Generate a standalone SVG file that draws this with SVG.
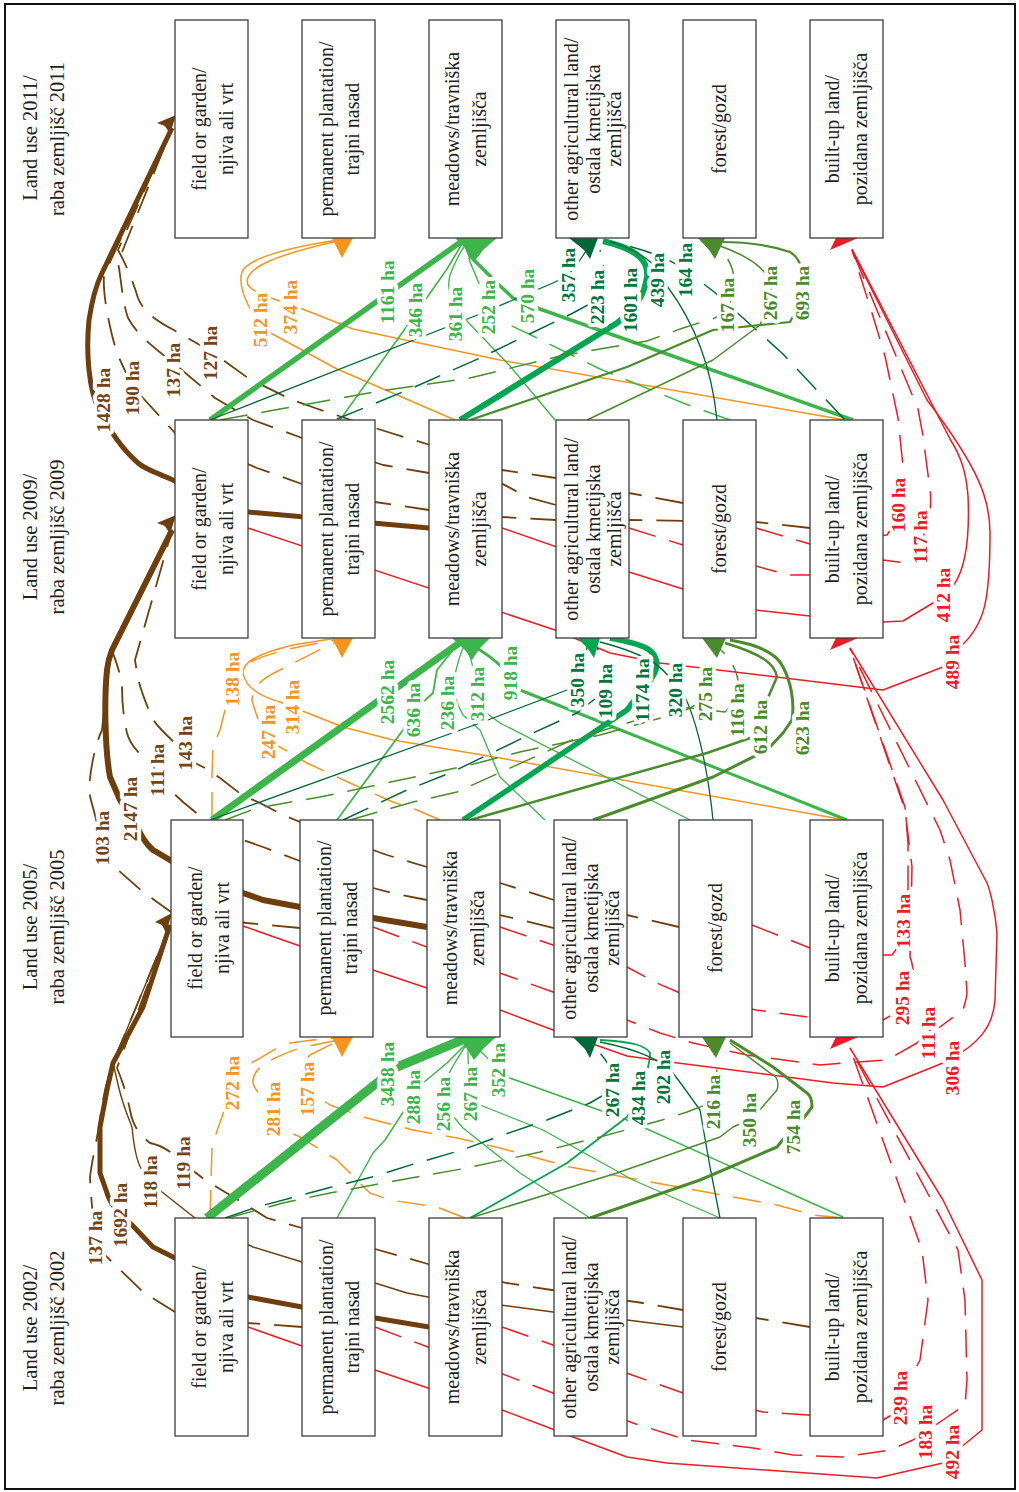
<svg xmlns="http://www.w3.org/2000/svg" width="1019" height="1492" viewBox="0 0 1019 1492">
<style>
.bx{fill:#fff;stroke:#3c3c3c;stroke-width:1.3}
.t{font-family:"Liberation Serif",serif;font-size:20px;fill:#231f20;text-anchor:middle;dominant-baseline:central}
.h{font-family:"Liberation Serif",serif;font-size:20.5px;fill:#231f20;text-anchor:middle;dominant-baseline:central}
.l{font-family:"Liberation Serif",serif;font-size:19.5px;font-weight:bold;text-anchor:middle;dominant-baseline:central;paint-order:stroke;stroke:#fff;stroke-width:8px;stroke-linejoin:round}
.c{fill:none;stroke-linejoin:round}
.d{stroke-dasharray:28 14}
.br{stroke:#6e3f0c}.or{stroke:#f7941d}.lg{stroke:#3cb54a}.dg{stroke:#006838}.bg{stroke:#00a651}.ol{stroke:#4a8b2c}.rd{stroke:#ed1c24}
.fbr{fill:#754414}.for{fill:#f7941d}.flg{fill:#3cb54a}.fdg{fill:#00773a}.fol{fill:#4a8b2c}.frd{fill:#ed1c24}
</style>
<rect x="5" y="4" width="1010" height="1485" fill="#fff" stroke="#111" stroke-width="2"/>

<g id="connectors">
<!-- Transition 2009 -> 2011 -->
<path class="c br" stroke-width="5" d="M429,528 L248,512 C205,508 192,490 175,481 C158,473 146,470 138,463 C120,447 110,430 100,412 C88,390 86,350 89,320 C92,300 96,285 102,273 L172,128"/>
<path class="c br d" stroke-width="1.8" d="M810,528 L756,522 L629,520 L556,520 L502,517 L429,510 L375,502 L302,484 L257,468 L175,433 L143,398 C128,380 118,360 112,335 C106,310 103,290 104,275 L172,128"/>
<path class="c br d" stroke-width="1.8" d="M683,503 L629,493 L556,478 L502,470 L429,473 L383,465 L302,438 L253,420 L215,398 L183,371 C165,355 140,340 128,318 C122,300 122,285 118,262 L172,128"/>
<path class="c br d" stroke-width="1.8" d="M556,505 L527,497 L430,445 L375,428 L318,409 L290,399 L248,378 L212,352 L172,329 C155,320 143,311 138,298 C134,285 128,268 118,250 L172,128"/>

<path class="c or" stroke-width="1.5" d="M455,420 L337,369 L267,331 L255,318 C245,300 238,285 242,272 C248,258 290,247 338,240"/>
<path class="c or" stroke-width="1.5" d="M845,420 L500,360 L353,329 L300,308 C280,300 255,295 248,285 C242,270 270,256 338,241"/>

<path class="c lg" stroke-width="5.5" d="M210,420 L462,241"/>
<path class="c lg" stroke-width="1.6" d="M340,420 L407,326 L447,269 L462,244"/>
<path class="c lg" stroke-width="1.3" d="M555,420 L510,366 L465,319 C452,305 446,290 450,275 C455,262 460,252 466,244"/>
<path class="c lg d" stroke-width="1.5" d="M730,420 L683,403 L600,369 L533,336 L495,318 C485,300 478,280 470,262 L466,246"/>
<path class="c lg" stroke-width="3.5" d="M853,420 L537,308 L513,298 L497,283 L470,256 L466,246"/>

<path class="c bg" stroke-width="6" d="M460,420 L617,323 C635,310 645,295 647,276 C648,262 640,250 603,241"/>
<path class="c dg" stroke-width="1.3" d="M210,420 L480,314 L553,283 C565,278 575,270 580,260 L590,245"/>
<path class="c dg d" stroke-width="1.5" d="M337,419 L410,389 L480,358 L573,313 L597,300 C605,285 606,270 600,250"/>
<path class="c dg" stroke-width="1.3" d="M717,420 C712,370 697,326 667,286 C660,270 650,255 615,243"/>
<path class="c dg d" stroke-width="1.5" d="M845,420 L813,386 L783,354 L713,291 L685,270 C670,258 640,248 610,242"/>

<path class="c ol d" stroke-width="1.5" d="M220,420 L280,409 L380,391 L470,378 L560,356 L647,341 L683,328 L715,318 L727,310 C740,285 735,260 715,245"/>
<path class="c ol" stroke-width="1.5" d="M587,420 L713,360 L760,325 L770,300 C775,280 765,262 720,246"/>
<path class="c ol" stroke-width="2.2" d="M470,420 L627,367 L713,330 L790,322 L802,300 C808,275 800,258 790,252 C770,245 745,242 720,242"/>

<path class="c rd" stroke-width="1.5" d="M248,528 L555,630 L610,653 L660,663 L883,690 L943,667 L960,647 C985,625 990,600 990,533 C990,500 980,470 927,400 L852,250"/>
<path class="c rd" stroke-width="1.5" d="M502,528 L629,572 L683,589 L756,610 L810,616 L883,622 L903,621 L933,603 L953,586 C965,570 970,540 968,496 C966,470 960,455 950,439 L852,249"/>
<path class="c rd d" stroke-width="1.5" d="M756,528 L810,544 L887,535 L897,520 C905,490 905,470 903,466 L898,418 L885,356 L872,313 L852,250"/>
<path class="c rd d" stroke-width="1.5" d="M629,528 L683,545 L756,566 L788,575 L810,575 L883,560 L907,563 L920,545 C930,520 932,505 930,490 L923,436 L918,409 L852,250"/>

<!-- Transition 2005 -> 2009 -->
<path class="c br" stroke-width="6" d="M427,927 L373,918 L300,907 L263,900 L243,893 C205,882 185,868 170,860 L153,850 C145,843 140,835 135,822 L120,800 L110,777 C105,750 104,700 107,670 C108,660 110,655 112,650 L172,530"/>
<path class="c br d" stroke-width="1.8" d="M300,928 L247,923 L171,912 L143,892 L110,863 C104,855 101,845 100,838 C96,815 90,800 89,790 C90,770 95,745 102,730 C105,700 108,670 112,650 L172,530"/>
<path class="c br d" stroke-width="1.8" d="M554,928 L500,915 L427,900 L392,893 L373,888 L300,861 L263,847 L243,840 L205,820 L183,802 L170,790 C163,780 158,775 152,765 C140,755 130,745 127,733 C123,715 122,700 122,687 C120,670 115,660 112,650 L172,530"/>
<path class="c br d" stroke-width="1.8" d="M679,927 L627,915 L554,900 L500,883 L427,867 L387,855 L373,850 L300,822 L283,815 L260,803 L242,795 L220,778 L205,768 L193,762 L180,748 C170,738 158,728 152,718 C147,705 140,690 137,673 L135,660 L172,530"/>

<path class="c or d" stroke-width="1.5" d="M212,820 L212,773 L213,747 L220,730 L225,710 L232,690 C236,675 240,668 250,662 C265,655 290,647 337,640"/>
<path class="c or d" stroke-width="1.5" d="M440,820 L417,810 L393,802 L350,783 L307,763 L268,740 C260,725 255,712 252,700 C252,690 258,680 280,670 L323,648 L338,641"/>
<path class="c or" stroke-width="1.5" d="M845,820 L500,758 L393,740 L343,727 L300,710 L280,702 C255,695 245,685 243,673 C243,663 253,655 293,645 L337,638"/>

<path class="c lg" stroke-width="7" d="M212,820 L462,641"/>
<path class="c lg" stroke-width="1.8" d="M337,820 L403,730 L422,703 L433,693 L437,670 L453,650 L463,643"/>
<path class="c lg" stroke-width="1.3" d="M545,820 L500,777 L480,730 L463,715 C455,700 452,690 455,675 C458,660 462,650 465,643"/>
<path class="c lg" stroke-width="1.3" d="M690,820 L500,723 L485,712 C478,690 474,670 467,645"/>
<path class="c lg" stroke-width="3" d="M847,820 L520,690 L505,670 C495,660 485,652 468,643"/>

<path class="c dg" stroke-width="1.3" d="M210,820 L480,723 L567,690 L577,680 C580,668 585,655 588,645"/>
<path class="c dg d" stroke-width="1.5" d="M343,820 L407,790 L450,773 L533,733 L577,713 L605,691 C610,675 605,660 595,645"/>
<path class="c bg" stroke-width="5.5" d="M463,820 L627,710 L642,690 C652,680 657,670 657,663 C655,650 647,645 610,638"/>
<path class="c dg" stroke-width="1.3" d="M713,820 C708,770 697,720 683,693 L675,690 C670,670 650,655 600,642"/>

<path class="c ol d" stroke-width="1.5" d="M225,820 L257,808 L320,797 L377,785 L470,765 L520,752 L600,735 L682,712 L705,700 C712,680 715,665 712,647"/>
<path class="c ol d" stroke-width="1.5" d="M350,820 L413,802 L457,792 L572,740 L637,720 L680,707 L725,712 L737,700 C742,680 735,660 715,645"/>
<path class="c ol" stroke-width="2.5" d="M470,820 L600,783 L707,753 L753,737 L760,727 L767,700 L777,677 C775,665 765,655 725,643"/>
<path class="c ol" stroke-width="3" d="M593,820 L713,777 L767,750 L783,733 L792,720 C795,700 790,680 783,667 C778,655 760,645 730,640"/>

<path class="c rd" stroke-width="1.5" d="M243,926 L300,946 L373,970 L427,988 L500,1010 L553,1030 L627,1056 L670,1062 L833,1083 L883,1087 L933,1067 L950,1060 C975,1045 993,1030 995,1000 L997,933 C995,910 990,890 987,883 L943,800 L850,648"/>
<path class="c rd d" stroke-width="1.5" d="M373,927 L427,947 L500,973 L553,992 L627,1020 L660,1033 L693,1043 L747,1055 L820,1065 L843,1063 L887,1060 L917,1043 L930,1030 L940,1027 L963,1010 C966,1000 967,995 967,993 L965,963 L960,910 L950,860 L940,830 L850,648"/>
<path class="c rd d" stroke-width="1.5" d="M500,927 L553,945 L627,967 L657,983 L680,993 L756,1010 L808,1017 L883,1020 L900,1010 L907,987 L915,980 C912,965 912,960 910,957 L912,867 L905,810 L850,648"/>
<path class="c rd d" stroke-width="1.5" d="M752,925 L810,948 L883,955 L892,955 L903,940 C906,920 907,910 908,895 L908,843 L905,807 L850,648"/>

<!-- Transition 2002 -> 2005 -->
<path class="c br" stroke-width="5" d="M429,1327 L375,1318 L302,1307 L248,1297 C210,1290 190,1268 175,1258 L153,1247 L132,1225 C120,1215 110,1205 107,1193 L100,1173 L100,1127 L107,1090 L113,1063 L143,1007 L170,925"/>
<path class="c br d" stroke-width="1.8" d="M302,1327 L248,1323 L175,1312 L143,1292 L110,1260 C100,1250 96,1245 95,1238 C93,1215 91,1200 90,1177 C92,1160 95,1150 100,1120 C103,1095 107,1080 113,1063 L170,925"/>
<path class="c br" stroke-width="1.4" d="M683,1327 L627,1320 L553,1312 L500,1305 L428,1297 L407,1293 L375,1283 L302,1262 L253,1247 L195,1218 L162,1192 L150,1182 C140,1170 135,1160 132,1127 C125,1110 120,1095 117,1080 L113,1063 L170,925"/>
<path class="c br d" stroke-width="1.8" d="M810,1327 L756,1318 L683,1310 L643,1303 L552,1290 L507,1283 L428,1264 L375,1249 L302,1228 L267,1218 L243,1203 L205,1180 L183,1163 C170,1150 160,1145 150,1143 C140,1135 133,1127 130,1110 C127,1095 122,1080 117,1068 L170,925"/>

<path class="c or d" stroke-width="1.5" d="M210,1218 L212,1147 L218,1128 L222,1117 L232,1083 C236,1070 240,1068 245,1067 L277,1048 L290,1043 L313,1040 L338,1038"/>
<path class="c or d" stroke-width="1.5" d="M465,1218 L437,1207 L390,1200 L370,1193 L337,1160 L300,1137 L285,1130 L273,1109 C260,1095 255,1090 253,1083 C252,1070 265,1060 300,1048 L338,1040"/>
<path class="c or d" stroke-width="1.5" d="M843,1218 L813,1215 L777,1205 L683,1188 L570,1167 L500,1148 L457,1138 L413,1130 L367,1118 L330,1105 L307,1089 C300,1075 300,1065 310,1055 L340,1040"/>

<path class="c lg" stroke-width="9" d="M207,1218 L397,1067 L462,1040"/>
<path class="c lg" stroke-width="1.5" d="M337,1218 L373,1153 L385,1140 L413,1097 L423,1083 L447,1063 L465,1045"/>
<path class="c lg" stroke-width="1.3" d="M590,1218 L520,1173 L463,1128 L443,1104 C440,1085 450,1070 466,1045"/>
<path class="c lg" stroke-width="1.3" d="M720,1218 L633,1180 L543,1130 L480,1105 L470,1094 C468,1075 468,1060 468,1045"/>
<path class="c lg" stroke-width="1.5" d="M843,1217 L627,1120 L507,1077 L498,1070 C490,1060 480,1050 470,1043"/>

<path class="c dg d" stroke-width="1.5" d="M225,1218 L257,1207 L328,1188 L372,1177 L417,1163 L462,1150 L503,1135 L547,1120 L590,1103 L612,1090 C615,1070 605,1055 590,1045"/>
<path class="c bg" stroke-width="1.8" d="M470,1218 L567,1163 L627,1117 L638,1098 C645,1080 650,1065 650,1053 C645,1045 633,1042 600,1040"/>
<path class="c dg" stroke-width="1.3" d="M720,1218 L710,1167 L700,1110 L682,1085 L673,1073 C660,1060 640,1050 600,1042"/>

<path class="c ol d" stroke-width="1.5" d="M228,1218 L283,1203 L330,1193 L400,1180 L467,1168 L540,1152 L600,1137 L662,1120 L687,1112 L713,1102 C718,1080 718,1065 714,1045"/>
<path class="c ol" stroke-width="1.5" d="M470,1218 L617,1173 L720,1137 L733,1127 L749,1120 L758,1112 L777,1090 C780,1080 775,1075 770,1073 L730,1043"/>
<path class="c ol" stroke-width="3" d="M590,1218 L700,1180 L777,1147 L793,1127 L800,1123 L812,1107 C812,1100 810,1095 807,1093 L773,1067 L730,1040"/>

<path class="c rd" stroke-width="1.5" d="M248,1327 L302,1346 L375,1370 L428,1388 L502,1410 L555,1430 L573,1437 L627,1457 L667,1463 L877,1478 L943,1463 L960,1448 L982,1430 L982,1280 L943,1200 L850,1048"/>
<path class="c rd d" stroke-width="1.5" d="M375,1327 L428,1347 L500,1373 L553,1393 L633,1423 L687,1440 L753,1448 L793,1455 L843,1457 L890,1450 L913,1440 L943,1420 L965,1405 L967,1380 L965,1300 L958,1250 L850,1048"/>
<path class="c rd d" stroke-width="1.5" d="M502,1327 L553,1345 L632,1375 L683,1393 L763,1412 L808,1415 L883,1420 L900,1410 L907,1385 L920,1360 L928,1300 L922,1250 L850,1048"/>
</g>

<g id="arrowheads">
<path fill="#6e3f0c" d="M176,115 L157,123 L165,126 L170,134 Z"/>
<path fill="#6e3f0c" d="M176,515 L157,523 L165,526 L170,534 Z"/>
<path fill="#6e3f0c" d="M172,913 L155,922 L162,925 L166,933 Z"/>
<path fill="#f7941d" d="M332,238 L353,238 L342,258 Z"/>
<path fill="#f7941d" d="M332,638 L353,638 L342,658 Z"/>
<path fill="#f7941d" d="M332,1037 L353,1037 L342,1057 Z"/>
<path fill="#3cb54a" d="M455,238 L497,238 L484,249 L474,262 L467,250 Z"/>
<path fill="#3cb54a" d="M452,638 L490,638 L480,648 L472,660 L465,650 Z"/>
<path fill="#3cb54a" d="M458,1037 L496,1037 L484,1048 L474,1060 L467,1049 Z"/>
<path fill="#006838" d="M569,238 L598,238 L590,259 L584,250 Z"/>
<path fill="#00a651" d="M578,638 L600,638 L594,658 L588,649 Z"/>
<path fill="#006838" d="M573,1037 L598,1037 L590,1058 L585,1049 Z"/>
<path fill="#4a8b2c" d="M698,238 L725,238 L715,259 L709,250 Z"/>
<path fill="#4a8b2c" d="M702,638 L726,638 L717,658 L711,650 Z"/>
<path fill="#4a8b2c" d="M702,1037 L726,1037 L716,1058 L710,1049 Z"/>
<path fill="#ed1c24" d="M830,250 L836,238 L858,238 Z"/>
<path fill="#ed1c24" d="M830,650 L836,638 L858,638 Z"/>
<path fill="#ed1c24" d="M830,1049 L836,1037 L858,1037 Z"/>
</g>

<g id="titles">
<text class="h" transform="translate(30,138) rotate(-90)">Land use 2011/</text>
<text class="h" transform="translate(57,139) rotate(-90)">raba zemljišč 2011</text>
<text class="h" transform="translate(30,537) rotate(-90)">Land use 2009/</text>
<text class="h" transform="translate(57,537) rotate(-90)">raba zemljišč 2009</text>
<text class="h" transform="translate(30,927) rotate(-90)">Land use 2005/</text>
<text class="h" transform="translate(57,927) rotate(-90)">raba zemljišč 2005</text>
<text class="h" transform="translate(30,1328) rotate(-90)">Land use 2002/</text>
<text class="h" transform="translate(57,1328) rotate(-90)">raba zemljišč 2002</text>
</g>

<!-- 2011 row -->
<g id="field-2011"><rect class="bx" x="175" y="20" width="73" height="218"/><text class="t" transform="translate(199,129) rotate(-90)">field or garden/</text><text class="t" transform="translate(226,129) rotate(-90)">njiva ali vrt</text></g>
<g id="plantation-2011"><rect class="bx" x="302" y="20" width="73" height="218"/><text class="t" transform="translate(326,129) rotate(-90)">permanent plantation/</text><text class="t" transform="translate(352,129) rotate(-90)">trajni nasad</text></g>
<g id="meadows-2011"><rect class="bx" x="429" y="20" width="73" height="218"/><text class="t" transform="translate(452,129) rotate(-90)">meadows/travniška</text><text class="t" transform="translate(479,129) rotate(-90)">zemljišča</text></g>
<g id="other-2011"><rect class="bx" x="556" y="20" width="73" height="218"/><text class="t" transform="translate(571,129) rotate(-90)">other agricultural land/</text><text class="t" transform="translate(593,129) rotate(-90)">ostala kmetijska</text><text class="t" transform="translate(614,129) rotate(-90)">zemljišča</text></g>
<g id="forest-2011"><rect class="bx" x="683" y="20" width="73" height="218"/><text class="t" transform="translate(719,129) rotate(-90)">forest/gozd</text></g>
<g id="builtup-2011"><rect class="bx" x="810" y="20" width="73" height="218"/><text class="t" transform="translate(832,129) rotate(-90)">built-up land/</text><text class="t" transform="translate(860,129) rotate(-90)">pozidana zemljišča</text></g>

<!-- 2009 row -->
<g id="field-2009"><rect class="bx" x="175" y="420" width="73" height="218"/><text class="t" transform="translate(199,529) rotate(-90)">field or garden/</text><text class="t" transform="translate(226,529) rotate(-90)">njiva ali vrt</text></g>
<g id="plantation-2009"><rect class="bx" x="302" y="420" width="73" height="218"/><text class="t" transform="translate(326,529) rotate(-90)">permanent plantation/</text><text class="t" transform="translate(352,529) rotate(-90)">trajni nasad</text></g>
<g id="meadows-2009"><rect class="bx" x="429" y="420" width="73" height="218"/><text class="t" transform="translate(452,529) rotate(-90)">meadows/travniška</text><text class="t" transform="translate(479,529) rotate(-90)">zemljišča</text></g>
<g id="other-2009"><rect class="bx" x="556" y="420" width="73" height="218"/><text class="t" transform="translate(571,529) rotate(-90)">other agricultural land/</text><text class="t" transform="translate(593,529) rotate(-90)">ostala kmetijska</text><text class="t" transform="translate(614,529) rotate(-90)">zemljišča</text></g>
<g id="forest-2009"><rect class="bx" x="683" y="420" width="73" height="218"/><text class="t" transform="translate(719,529) rotate(-90)">forest/gozd</text></g>
<g id="builtup-2009"><rect class="bx" x="810" y="420" width="73" height="218"/><text class="t" transform="translate(832,529) rotate(-90)">built-up land/</text><text class="t" transform="translate(860,529) rotate(-90)">pozidana zemljišča</text></g>

<!-- 2005 row -->
<g id="field-2005"><rect class="bx" x="171" y="820" width="72" height="217"/><text class="t" transform="translate(195,928) rotate(-90)">field or garden/</text><text class="t" transform="translate(222,928) rotate(-90)">njiva ali vrt</text></g>
<g id="plantation-2005"><rect class="bx" x="300" y="820" width="73" height="217"/><text class="t" transform="translate(324,928) rotate(-90)">permanent plantation/</text><text class="t" transform="translate(350,928) rotate(-90)">trajni nasad</text></g>
<g id="meadows-2005"><rect class="bx" x="427" y="820" width="73" height="217"/><text class="t" transform="translate(450,928) rotate(-90)">meadows/travniška</text><text class="t" transform="translate(477,928) rotate(-90)">zemljišča</text></g>
<g id="other-2005"><rect class="bx" x="554" y="820" width="73" height="217"/><text class="t" transform="translate(569,928) rotate(-90)">other agricultural land/</text><text class="t" transform="translate(591,928) rotate(-90)">ostala kmetijska</text><text class="t" transform="translate(612,928) rotate(-90)">zemljišča</text></g>
<g id="forest-2005"><rect class="bx" x="679" y="820" width="73" height="217"/><text class="t" transform="translate(715,928) rotate(-90)">forest/gozd</text></g>
<g id="builtup-2005"><rect class="bx" x="810" y="820" width="73" height="217"/><text class="t" transform="translate(832,928) rotate(-90)">built-up land/</text><text class="t" transform="translate(860,928) rotate(-90)">pozidana zemljišča</text></g>

<!-- 2002 row -->
<g id="field-2002"><rect class="bx" x="175" y="1218" width="73" height="218"/><text class="t" transform="translate(199,1327) rotate(-90)">field or garden/</text><text class="t" transform="translate(226,1327) rotate(-90)">njiva ali vrt</text></g>
<g id="plantation-2002"><rect class="bx" x="302" y="1218" width="73" height="218"/><text class="t" transform="translate(326,1327) rotate(-90)">permanent plantation/</text><text class="t" transform="translate(352,1327) rotate(-90)">trajni nasad</text></g>
<g id="meadows-2002"><rect class="bx" x="429" y="1218" width="73" height="218"/><text class="t" transform="translate(452,1327) rotate(-90)">meadows/travniška</text><text class="t" transform="translate(479,1327) rotate(-90)">zemljišča</text></g>
<g id="other-2002"><rect class="bx" x="554" y="1218" width="73" height="218"/><text class="t" transform="translate(569,1327) rotate(-90)">other agricultural land/</text><text class="t" transform="translate(591,1327) rotate(-90)">ostala kmetijska</text><text class="t" transform="translate(612,1327) rotate(-90)">zemljišča</text></g>
<g id="forest-2002"><rect class="bx" x="683" y="1218" width="73" height="218"/><text class="t" transform="translate(719,1327) rotate(-90)">forest/gozd</text></g>
<g id="builtup-2002"><rect class="bx" x="810" y="1218" width="73" height="218"/><text class="t" transform="translate(832,1327) rotate(-90)">built-up land/</text><text class="t" transform="translate(860,1327) rotate(-90)">pozidana zemljišča</text></g>

<g id="labels">
<text class="l fbr" transform="translate(103,400) rotate(-90)">1428 ha</text>
<text class="l fbr" transform="translate(132,388) rotate(-90)">190 ha</text>
<text class="l fbr" transform="translate(173,370) rotate(-90)">137 ha</text>
<text class="l fbr" transform="translate(210,353) rotate(-90)">127 ha</text>
<text class="l for" transform="translate(260,320) rotate(-90)">512 ha</text>
<text class="l for" transform="translate(290,307) rotate(-90)">374 ha</text>
<text class="l flg" transform="translate(387,292) rotate(-90)">1161 ha</text>
<text class="l flg" transform="translate(415,310) rotate(-90)">346 ha</text>
<text class="l flg" transform="translate(455,314) rotate(-90)">361 ha</text>
<text class="l flg" transform="translate(488,307) rotate(-90)">252 ha</text>
<text class="l flg" transform="translate(527,296) rotate(-90)">570 ha</text>
<text class="l fdg" transform="translate(568,275) rotate(-90)">357 ha</text>
<text class="l fdg" transform="translate(597,297) rotate(-90)">223 ha</text>
<text class="l fdg" transform="translate(630,300) rotate(-90)">1601 ha</text>
<text class="l fdg" transform="translate(657,280) rotate(-90)">439 ha</text>
<text class="l fdg" transform="translate(685,270) rotate(-90)">164 ha</text>
<text class="l fol" transform="translate(727,305) rotate(-90)">167 ha</text>
<text class="l fol" transform="translate(770,293) rotate(-90)">267 ha</text>
<text class="l fol" transform="translate(802,293) rotate(-90)">693 ha</text>
<text class="l frd" transform="translate(898,505) rotate(-90)">160 ha</text>
<text class="l frd" transform="translate(920,537) rotate(-90)">117 ha</text>
<text class="l frd" transform="translate(943,595) rotate(-90)">412 ha</text>
<text class="l frd" transform="translate(952,662) rotate(-90)">489 ha</text>

<text class="l fbr" transform="translate(102,838) rotate(-90)">103 ha</text>
<text class="l fbr" transform="translate(130,809) rotate(-90)">2147 ha</text>
<text class="l fbr" transform="translate(157,770) rotate(-90)">111 ha</text>
<text class="l fbr" transform="translate(185,743) rotate(-90)">143 ha</text>
<text class="l for" transform="translate(232,679) rotate(-90)">138 ha</text>
<text class="l for" transform="translate(268,732) rotate(-90)">247 ha</text>
<text class="l for" transform="translate(292,707) rotate(-90)">314 ha</text>
<text class="l flg" transform="translate(387,692) rotate(-90)">2562 ha</text>
<text class="l flg" transform="translate(413,710) rotate(-90)">636 ha</text>
<text class="l flg" transform="translate(447,703) rotate(-90)">236 ha</text>
<text class="l flg" transform="translate(477,694) rotate(-90)">312 ha</text>
<text class="l flg" transform="translate(510,673) rotate(-90)">918 ha</text>
<text class="l fdg" transform="translate(577,680) rotate(-90)">350 ha</text>
<text class="l fdg" transform="translate(605,691) rotate(-90)">109 ha</text>
<text class="l fdg" transform="translate(642,690) rotate(-90)">1174 ha</text>
<text class="l fdg" transform="translate(675,690) rotate(-90)">320 ha</text>
<text class="l fol" transform="translate(705,694) rotate(-90)">275 ha</text>
<text class="l fol" transform="translate(737,710) rotate(-90)">116 ha</text>
<text class="l fol" transform="translate(760,727) rotate(-90)">612 ha</text>
<text class="l fol" transform="translate(802,728) rotate(-90)">623 ha</text>
<text class="l frd" transform="translate(903,921) rotate(-90)">133 ha</text>
<text class="l frd" transform="translate(902,998) rotate(-90)">295 ha</text>
<text class="l frd" transform="translate(928,1033) rotate(-90)">111 ha</text>
<text class="l frd" transform="translate(952,1068) rotate(-90)">306 ha</text>

<text class="l fbr" transform="translate(95,1238) rotate(-90)">137 ha</text>
<text class="l fbr" transform="translate(120,1215) rotate(-90)">1692 ha</text>
<text class="l fbr" transform="translate(150,1182) rotate(-90)">118 ha</text>
<text class="l fbr" transform="translate(183,1163) rotate(-90)">119 ha</text>
<text class="l for" transform="translate(232,1083) rotate(-90)">272 ha</text>
<text class="l for" transform="translate(273,1109) rotate(-90)">281 ha</text>
<text class="l for" transform="translate(307,1089) rotate(-90)">157 ha</text>
<text class="l flg" transform="translate(387,1074) rotate(-90)">3438 ha</text>
<text class="l flg" transform="translate(413,1097) rotate(-90)">288 ha</text>
<text class="l flg" transform="translate(443,1104) rotate(-90)">256 ha</text>
<text class="l flg" transform="translate(470,1094) rotate(-90)">267 ha</text>
<text class="l flg" transform="translate(498,1070) rotate(-90)">352 ha</text>
<text class="l fdg" transform="translate(612,1090) rotate(-90)">267 ha</text>
<text class="l fdg" transform="translate(638,1098) rotate(-90)">434 ha</text>
<text class="l fdg" transform="translate(663,1077) rotate(-90)">202 ha</text>
<text class="l fol" transform="translate(713,1102) rotate(-90)">216 ha</text>
<text class="l fol" transform="translate(749,1120) rotate(-90)">350 ha</text>
<text class="l fol" transform="translate(793,1127) rotate(-90)">754 ha</text>
<text class="l frd" transform="translate(900,1398) rotate(-90)">239 ha</text>
<text class="l frd" transform="translate(925,1432) rotate(-90)">183 ha</text>
<text class="l frd" transform="translate(952,1452) rotate(-90)">492 ha</text>
</g>
</svg>
